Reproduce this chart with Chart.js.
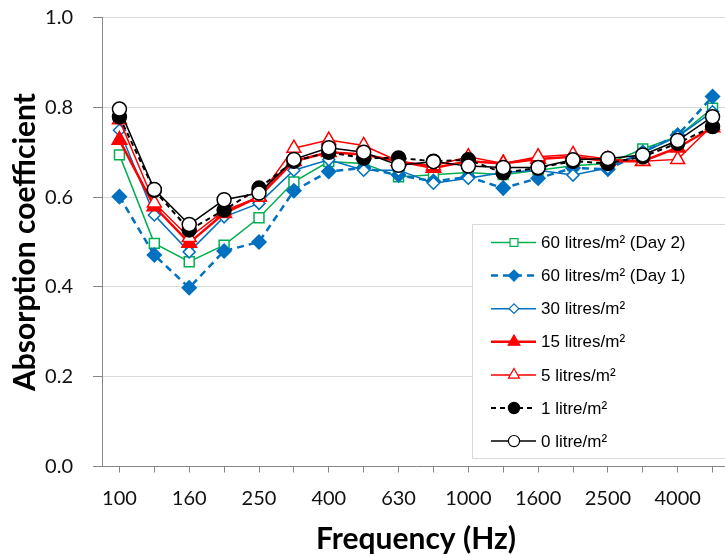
<!DOCTYPE html>
<html>
<head>
<meta charset="utf-8">
<script src="https://cdn.jsdelivr.net/npm/chart.js@4/dist/chart.umd.min.js"></script>
<style>
  html, body { margin: 0; padding: 0; background: #fff; overflow: hidden; }
  #wrap { width: 725px; height: 556px; overflow: hidden; }
</style>
</head>
<body>
<div id="wrap"><canvas id="myChartLine" width="740" height="556"></canvas></div>
<script>
//#                  Data
const frequencies = ["100", "125", "160", "200", "250", "315", "400", "500", "630", "800", "1000", "1250", "1600", "2000", "2500", "3150", "4000", "5000"];

const day2_60 = [0.694, 0.497, 0.456, 0.493, 0.554, 0.634, 0.679, 0.675, 0.645, 0.650, 0.655, 0.650, 0.660, 0.670, 0.675, 0.707, 0.735, 0.798];
const day1_60 = [0.601, 0.471, 0.398, 0.480, 0.500, 0.614, 0.657, 0.665, 0.649, 0.635, 0.645, 0.620, 0.642, 0.665, 0.662, 0.700, 0.738, 0.824];
const litres30 = [0.749, 0.560, 0.478, 0.556, 0.586, 0.660, 0.683, 0.660, 0.660, 0.631, 0.642, 0.655, 0.660, 0.649, 0.665, 0.700, 0.735, 0.790];
const litres15 = [0.727, 0.579, 0.498, 0.564, 0.601, 0.680, 0.700, 0.695, 0.680, 0.665, 0.680, 0.675, 0.685, 0.690, 0.680, 0.680, 0.710, 0.755];
const litres5 = [0.772, 0.587, 0.510, 0.570, 0.600, 0.709, 0.727, 0.715, 0.680, 0.670, 0.690, 0.675, 0.690, 0.695, 0.685, 0.680, 0.684, 0.760];
const litre1 = [0.779, 0.615, 0.527, 0.571, 0.620, 0.680, 0.700, 0.687, 0.687, 0.680, 0.683, 0.654, 0.665, 0.680, 0.675, 0.690, 0.720, 0.757];
const litre0 = [0.796, 0.617, 0.539, 0.594, 0.609, 0.684, 0.710, 0.700, 0.671, 0.679, 0.669, 0.666, 0.666, 0.683, 0.686, 0.694, 0.726, 0.779];

const seriesLabels = ["60 litres/m² (Day 2)", "60 litres/m² (Day 1)", "30 litres/m²", "15 litres/m²", "5 litres/m²", "1 litre/m²", "0 litre/m²"];

const GREEN = "#00B050";
const BLUE = "#0070C0";
const RED = "#FF0000";
const BLACK = "#000000";

const makeSet = (label, data, color, width, dash, style, radius, fill, order) => ({
  label: label,
  data: data,
  borderColor: color,
  backgroundColor: color,
  borderWidth: width,
  borderDash: dash,
  pointStyle: style,
  pointRadius: radius,
  pointHoverRadius: radius,
  pointBackgroundColor: fill,
  pointBorderColor: color,
  pointBorderWidth: 1.5,
  tension: 0,
  order: order,
});

const datasets = [
  makeSet(seriesLabels[0], day2_60, GREEN, 1.5, [], "rect", 7, "#fff", 6),
  makeSet(seriesLabels[1], day1_60, BLUE, 2.5, [7, 5], "rectRot", 7, BLUE, 5),
  makeSet(seriesLabels[2], litres30, BLUE, 1.5, [], "rectRot", 6, "#fff", 4),
  makeSet(seriesLabels[3], litres15, RED, 2.5, [], "triangle", 8.5, RED, 3),
  makeSet(seriesLabels[4], litres5, RED, 1.5, [], "triangle", 8, "#fff", 2),
  makeSet(seriesLabels[5], litre1, BLACK, 2, [5, 4], "circle", 7, BLACK, 1),
  makeSet(seriesLabels[6], litre0, BLACK, 1.5, [], "circle", 7, "#fff", 0),
];

//#                  Legend box drawn inside the plot area like the original
const insideLegend = {
  id: "insideLegend",
  afterDraw(chart) {
    const ctx = chart.ctx;
    const boxX = 472, boxY = 224, boxW = 270, boxH = 234;
    ctx.save();
    ctx.fillStyle = "#fff";
    ctx.fillRect(boxX, boxY, boxW, boxH);
    ctx.strokeStyle = "#d9d9d9";
    ctx.lineWidth = 1;
    ctx.strokeRect(boxX + 0.5, boxY + 0.5, boxW, boxH);

    chart.data.datasets.forEach((ds, i) => {
      const y = 242.5 + i * 33.1;
      ctx.strokeStyle = ds.borderColor;
      ctx.lineWidth = ds.borderWidth;
      ctx.setLineDash(ds.borderDash);
      ctx.beginPath();
      ctx.moveTo(491, y);
      ctx.lineTo(536, y);
      ctx.stroke();
      ctx.setLineDash([]);

      ctx.fillStyle = ds.pointBackgroundColor;
      ctx.strokeStyle = ds.pointBorderColor;
      ctx.lineWidth = 1.2;
      Chart.helpers.drawPoint(ctx, {
        pointStyle: ds.pointStyle,
        radius: ds.pointRadius * 0.8,
        rotation: 0,
        borderWidth: 1.2,
      }, 514, y);

      ctx.fillStyle = "#000";
      ctx.font = "17px 'Liberation Sans', Arial, sans-serif";
      ctx.textBaseline = "middle";
      ctx.textAlign = "left";
      ctx.fillText(ds.label, 541, y + 1);
    });
    ctx.restore();
  },
};

//* Chart configuration
const config = {
  type: "line",
  data: {
    labels: frequencies,
    datasets: datasets,
  },
  options: {
    responsive: false,
    animation: false,
    layout: {
      padding: { top: 17.5, left: 0, right: 4, bottom: 0 },
    },
    scales: {
      x: {
        offset: true,
        grid: {
          offset: false,
          drawOnChartArea: false,
          tickLength: 6,
          color: "#868686",
        },
        border: { color: "#868686", width: 1 },
        ticks: {
          autoSkip: false,
          maxRotation: 0,
          padding: 14,
          color: "#111",
          font: { family: "Lato", size: 20 },
          callback: function (value, index) {
            return index % 2 === 0 ? this.getLabelForValue(value) : "";
          },
        },
        title: {
          display: true,
          text: "Frequency (Hz)",
          color: "#000",
          font: { family: "Lato", size: 30, weight: "bold", lineHeight: 1.1 },
          padding: { top: 0, bottom: 0 },
        },
        afterFit: (scale) => {
          scale.height = 89.5;
        },
      },
      y: {
        min: 0,
        max: 1,
        grid: {
          color: "#d9d9d9",
          tickLength: 9,
          tickColor: "#868686",
        },
        border: { color: "#868686", width: 1 },
        ticks: {
          stepSize: 0.2,
          padding: 20,
          color: "#111",
          font: { family: "Lato", size: 20 },
          callback: (value) => value.toFixed(1),
        },
        title: {
          display: true,
          text: "Absorption coefficient",
          color: "#000",
          font: { family: "Lato", size: 30, weight: "bold", lineHeight: 1.1 },
          padding: { top: 9, bottom: 0 },
        },
        afterFit: (scale) => {
          scale.width = 102;
          // keep the top tick label from pushing the plot down
          scale.paddingTop = 0;
          scale.paddingBottom = 0;
        },
      },
    },
    plugins: {
      legend: { display: false },
      tooltip: { enabled: false },
    },
  },
  plugins: [insideLegend],
};

//* Displaying Chart
const ctx = document.getElementById("myChartLine").getContext("2d");
const illustrateGraphLine = new Chart(ctx, config);
</script>
</body>
</html>
